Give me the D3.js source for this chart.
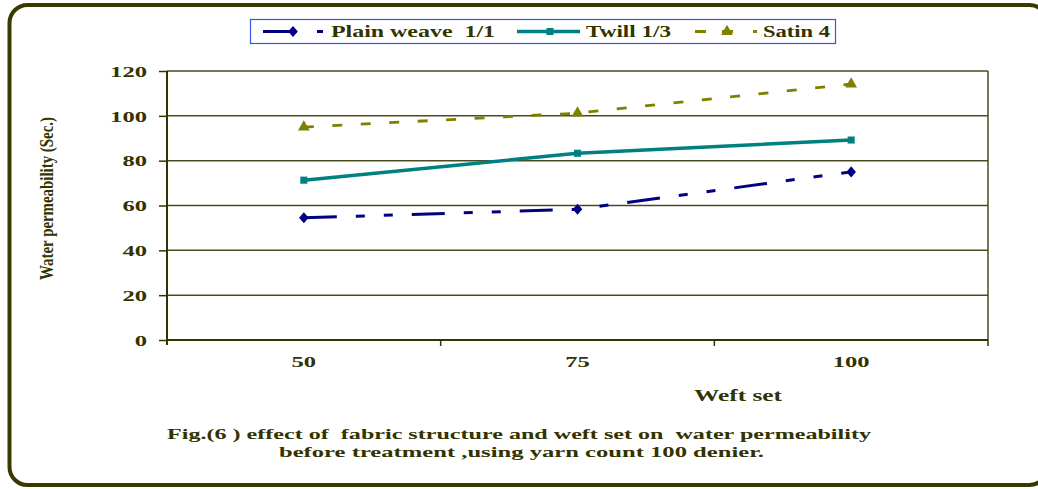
<!DOCTYPE html>
<html><head><meta charset="utf-8">
<script src="https://cdn.jsdelivr.net/npm/d3@7"></script>
<style>
body{margin:0;background:#fff;}
svg text{font-family:"Liberation Serif","Times New Roman",serif;font-weight:bold;fill:#333300;}
</style></head>
<body><svg id="c" width="1038" height="489"></svg>
<script>
const categories = ["50","75","100"];
const yTicks = [0,20,40,60,80,100,120];
const seriesNames = ["Plain weave  1/1","Twill 1/3","Satin 4"];
const plainValues = [54.5,58.3,75];
const twillValues = [71.3,83.3,89.2];
const satinValues = [95,101.2,114.2];
const xTitle = "Weft set";
const yTitle = "Water permeability (Sec.)";
const caption1 = "Fig.(6 ) effect of  fabric structure and weft set on  water permeability";
const caption2 = "before treatment ,using yarn count 100 denier.";

const svg = d3.select("#c");
const ink = "#333300";
// outer frame
svg.append("rect").attr("x",9.5).attr("y",5).attr("width",1038).attr("height",480)
  .attr("rx",18).attr("fill","none").attr("stroke","#3a3a00").attr("stroke-width",4);

const L=167,R=988,T=71,B=340;
const x = d3.scaleBand().domain(categories).range([L,R]);
const y = d3.scaleLinear().domain([0,120]).range([B,T]);
const digitW = 12.3;

// gridlines
const g = svg.append("g");
g.selectAll("line.grid").data(yTicks.filter(d=>d>0)).join("line")
  .attr("x1",L).attr("x2",R).attr("y1",d=>y(d)).attr("y2",d=>y(d))
  .attr("stroke","#4a4a20").attr("stroke-width",1.5);
g.append("line").attr("x1",R).attr("x2",R).attr("y1",T).attr("y2",B).attr("stroke","#4a4a20").attr("stroke-width",1.5);

// y axis
const ya = svg.append("g").attr("transform",`translate(${L},0)`)
  .call(d3.axisLeft(y).tickValues(yTicks).tickSize(8).tickPadding(12));
ya.select(".domain").attr("stroke",ink).attr("stroke-width",2).attr("d",`M0,${T}V${B+5}`);
ya.selectAll(".tick line").attr("stroke",ink).attr("stroke-width",1.5);
ya.selectAll(".tick text").attr("font-size",15).attr("dy","0.35em").style("fill",ink)
  .attr("textLength",d=>String(d).length*digitW).attr("lengthAdjust","spacingAndGlyphs");

// x axis
const xa = svg.append("g").attr("transform",`translate(0,${B})`)
  .call(d3.axisBottom(x).tickSize(0).tickPadding(16));
xa.select(".domain").attr("stroke",ink).attr("stroke-width",2).attr("d",`M${L},0H${R}`);
xa.selectAll(".tick text").attr("font-size",15).attr("y",27).attr("dy",0).style("fill",ink)
  .attr("textLength",d=>d.length*digitW).attr("lengthAdjust","spacingAndGlyphs");
// tick marks between bands
svg.selectAll("line.xt").data(categories).join("line")
  .attr("x1",d=>x(d)+x.bandwidth()).attr("x2",d=>x(d)+x.bandwidth())
  .attr("y1",B).attr("y2",B+6).attr("stroke",ink).attr("stroke-width",1.5);

function txt(t,x0,base,w,size){
  return svg.append("text").attr("x",x0).attr("y",base).attr("font-size",size)
    .attr("textLength",w).attr("lengthAdjust","spacingAndGlyphs").attr("xml:space","preserve").text(t);
}
// titles
txt(xTitle,694,401,88,16);
svg.append("text").attr("transform","translate(53,198.5) rotate(-90)").attr("text-anchor","middle")
  .attr("font-size",18).attr("textLength",163).attr("lengthAdjust","spacingAndGlyphs").text(yTitle);
txt(caption1,167,439,704,15);
txt(caption2,279,457,485,15);

const series = [
  {name:seriesNames[0],vals:plainValues,color:"#000080",dash:"33,19,9,19,9,19",w:3,shape:d3.symbolDiamond,size:55},
  {name:seriesNames[1],vals:twillValues,color:"#008080",dash:null,w:3.5,shape:d3.symbolSquare,size:50},
  {name:seriesNames[2],vals:satinValues,color:"#808000",dash:"10,18.5",w:2.8,shape:d3.symbolTriangle,size:60}
];
const line = d3.line().x((d,i)=>x(categories[i])+x.bandwidth()/2).y(d=>y(d));
series.forEach(s=>{
  svg.append("path").attr("d",line(s.vals)).attr("fill","none").attr("stroke",s.color)
    .attr("stroke-width",s.w).attr("stroke-dasharray",s.dash);
  svg.selectAll(null).data(s.vals).join("path")
    .attr("d",d3.symbol().type(s.shape).size(s.size))
    .attr("transform",(d,i)=>`translate(${x(categories[i])+x.bandwidth()/2},${y(d)})`+(s.shape===d3.symbolDiamond?" scale(1.2,0.8)":""))
    .attr("fill",s.color);
});

// legend
svg.append("rect").attr("x",250.5).attr("y",19.5).attr("width",585).attr("height",24)
  .attr("fill","#fff").attr("stroke","#3355ee").attr("stroke-width",1.2);
const lg = [
  {x1:263,x2:323,mx:293,tx:331,tw:164,dash:"34,20,6,100"},
  {x1:517,x2:580,mx:550,tx:586,tw:85,dash:null},
  {x1:695,x2:757,mx:727,tx:763,tw:67,dash:"11,16,11,20,4,50"}
];
series.forEach((s,i)=>{
  const p=lg[i], cy=31.5;
  svg.append("line").attr("x1",p.x1).attr("x2",p.x2).attr("y1",cy).attr("y2",cy)
    .attr("stroke",s.color).attr("stroke-width",s.w).attr("stroke-dasharray",p.dash);
  svg.append("path").attr("d",d3.symbol().type(s.shape).size(s.size))
    .attr("transform",`translate(${p.mx},${cy})`+(i===0?" scale(1.2,0.8)":"")).attr("fill",s.color);
  txt(s.name,p.tx,36.5,p.tw,16);
});
</script></body></html>
